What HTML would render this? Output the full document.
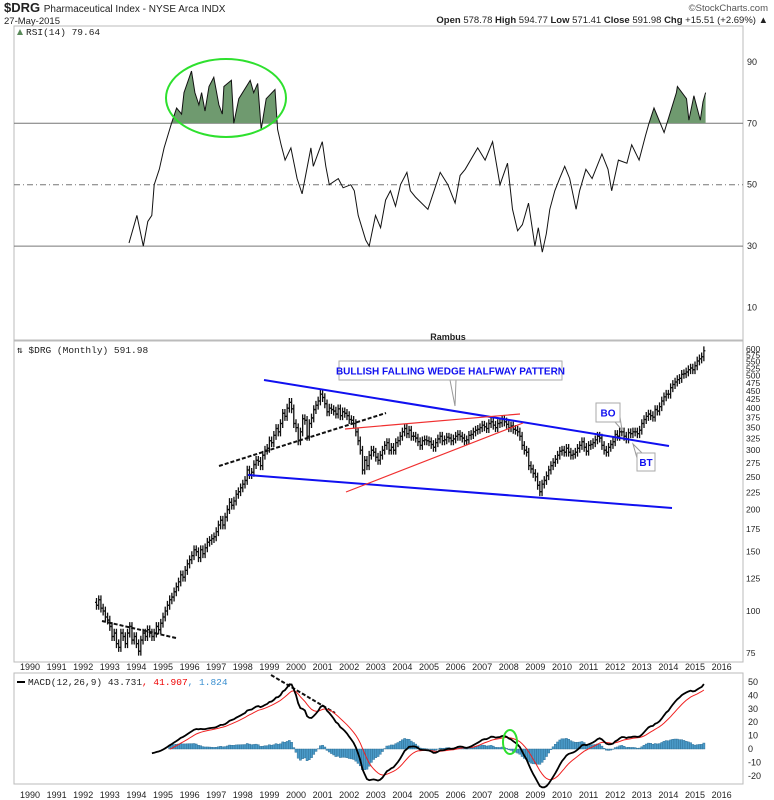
<!DOCTYPE html>
<html><head><meta charset="utf-8">
<style>
body{margin:0;background:#fff;}
svg{display:block;font-family:"Liberation Sans",sans-serif;}
</style></head>
<body>
<svg id="chart" width="774" height="800" viewBox="0 0 774 800" xmlns="http://www.w3.org/2000/svg">
<defs><clipPath id="above70"><rect x="14" y="26" width="729" height="97.3"/></clipPath></defs>
<rect x="0" y="0" width="774" height="800" fill="#fff"/>
<text x="4" y="12" font-size="13" font-weight="bold" fill="#222">$DRG <tspan font-size="10" font-weight="normal">Pharmaceutical Index - NYSE Arca INDX</tspan></text>
<text x="4" y="24" font-size="9.5" fill="#222">27-May-2015</text>
<text x="768" y="11" font-size="9.5" fill="#555" text-anchor="end">©StockCharts.com</text>
<text x="768" y="23" font-size="9.5" fill="#222" text-anchor="end"><tspan font-weight="bold">Open</tspan> 578.78 <tspan font-weight="bold">High</tspan> 594.77 <tspan font-weight="bold">Low</tspan> 571.41 <tspan font-weight="bold">Close</tspan> 591.98 <tspan font-weight="bold">Chg</tspan> +15.51 (+2.69%) ▲</text>

<rect x="14" y="26" width="729" height="314" fill="none" stroke="#bbb"/>
<rect x="14" y="341" width="729" height="321" fill="none" stroke="#bbb"/>
<rect x="14" y="673" width="729" height="111" fill="none" stroke="#bbb"/>
<text x="26" y="35" font-size="9.5" font-family="Liberation Mono, monospace" fill="#222">RSI(14) 79.64</text>
<path d="M17 35 l3 -6 l3 6z" fill="#5a8a5a"/>
<text x="17" y="353" font-size="9.5" font-family="Liberation Mono, monospace" fill="#222">⇅ $DRG (Monthly) 591.98</text>
<text x="28" y="685" font-size="9.5" font-family="Liberation Mono, monospace" fill="#222">MACD(12,26,9) 43.731<tspan fill="#e00">, 41.907</tspan><tspan fill="#3a8fd0">, 1.824</tspan></text>
<line x1="17" y1="682" x2="25" y2="682" stroke="#000" stroke-width="2"/>
<text x="448" y="340" font-size="9" font-weight="bold" text-anchor="middle" fill="#222">Rambus</text>
<g id="g"></g>
</svg>
<script>
const closes1992=[104,108,102,100,96,94];
const closes1993=[90,84,86,80,78,86,84,80,86,90,82,84];
const closes1994=[80,76,82,86,84,88,86,84,86,90,88,92];
const closes1995=[96,100,104,108,110,114,118,122,128,126,132,138];
const closes1996=[142,146,152,150,144,152,148,154,160,162,164,166];
const closes1997=[172,180,186,180,190,200,210,206,212,222,226,232];
const closes1998=[238,244,262,254,258,272,280,278,270,290,300,304];
const closes1999=[320,316,332,348,340,360,386,378,400,416,398,360];
const closes2000=[350,320,340,372,368,330,360,374,396,408,420,440];
const closes2001=[430,412,390,400,396,392,384,398,380,390,386,380];
const closes2002=[370,368,360,340,320,300,262,280,270,290,300,296];
const closes2003=[286,280,290,300,310,316,300,306,300,316,320,330];
const closes2004=[340,348,336,344,330,330,326,318,310,320,322,320];
const closes2005=[318,312,306,316,324,330,320,322,328,326,320,324];
const closes2006=[330,334,330,326,320,322,332,334,340,344,346,350];
const closes2007=[356,352,348,360,364,356,350,360,362,370,364,358];
const closes2008=[350,354,346,344,340,330,310,300,296,270,264,256];
const closes2009=[250,236,226,238,244,252,262,270,276,282,290,298];
const closes2010=[300,296,304,296,290,292,296,304,310,318,306,298];
const closes2011=[310,312,316,322,330,326,310,300,296,306,312,318];
const closes2012=[334,330,340,340,330,324,338,336,340,340,336,344];
const closes2013=[360,370,378,384,380,376,396,392,404,420,432,440];
const closes2014=[440,460,470,478,486,490,504,506,512,520,526,520];
const closes2015=[534,552,560,568,592];
const startYear=1992.5;
const rsiDates=[1993.72,1994.02,1994.26,1994.43,1994.58,1994.67,1994.86,1995.04,1995.32,1995.51,1995.70,1995.79,1996.07,1996.20,1996.35,1996.45,1996.58,1996.73,1996.91,1997.10,1997.23,1997.29,1997.57,1997.66,1997.85,1998.28,1998.41,1998.56,1998.69,1998.88,1999.21,1999.31,1999.44,1999.59,1999.81,2000.04,2000.23,2000.56,2000.65,2000.99,2001.12,2001.25,2001.59,2001.77,2002.06,2002.19,2002.34,2002.62,2002.75,2002.99,2003.18,2003.37,2003.55,2003.74,2003.93,2004.17,2004.30,2004.49,2004.96,2005.42,2005.71,2005.98,2006.17,2006.36,2006.83,2007.11,2007.39,2007.67,2007.95,2008.14,2008.33,2008.51,2008.74,2008.98,2009.11,2009.26,2009.41,2009.54,2009.73,2009.91,2010.10,2010.29,2010.53,2010.66,2010.90,2011.13,2011.50,2011.73,2011.87,2012.12,2012.44,2012.62,2012.90,2013.14,2013.27,2013.46,2013.84,2014.30,2014.34,2014.68,2014.77,2014.96,2015.20,2015.30,2015.40];
const rsiValues=[31,40,30,38,40,50,55,62,70,75,73,80,87,80,76,80,74,82,85,76,73,82,84,70,78,84,80,83,68,78,81,68,63,58,62,52,47,62,56,64,56,50,52,49,50,48,40,32,30,40,36,45,48,43,50,54,48,46,42,54,50,44,53,55,62,58,64,50,57,42,35,37,44,30,36,28,34,42,48,52,56,52,42,48,55,52,60,55,48,58,57,63,58,66,70,75,67,80,82,78,71,79,71,77,80];
const yearTicks=[1990,1991,1992,1993,1994,1995,1996,1997,1998,1999,2000,2001,2002,2003,2004,2005,2006,2007,2008,2009,2010,2011,2012,2013,2014,2015,2016];
const priceTicks=[600,575,550,525,500,475,450,425,400,375,350,325,300,275,250,225,200,175,150,125,100,75];
const rsiTicks=[90,70,50,30,10];
const macdTicks=[50,40,30,20,10,0,-10,-20];

const closes=[].concat(closes1992,closes1993,closes1994,closes1995,closes1996,closes1997,closes1998,closes1999,closes2000,closes2001,closes2002,closes2003,closes2004,closes2005,closes2006,closes2007,closes2008,closes2009,closes2010,closes2011,closes2012,closes2013,closes2014,closes2015);
const NS="http://www.w3.org/2000/svg";
const G=document.getElementById('g');
function xYear(y){return 30+(y-1990)*26.6;}
function xIdx(i){return xYear(startYear+i/12);}
function yPrice(v){return 611-337*Math.log10(v/100);}
function yRsi(v){return 123.3+(70-v)*3.07;}
function yMacd(v){return 749-v*1.34;}
function mk(tag,attrs){const e=document.createElementNS(NS,tag);for(const k in attrs)e.setAttribute(k,attrs[k]);G.appendChild(e);return e;}

yearTicks.forEach(function(yr){
  [667,795].forEach(function(yy,j){
    const t=mk('text',{x:xYear(yr),y:yy+3,'font-size':9,'text-anchor':'middle',fill:'#222'});
    t.textContent=yr;
    
    
  });
});
priceTicks.forEach(function(v){
  const t=mk('text',{x:746,y:yPrice(v)+3,'font-size':8.5,fill:'#222'});
  t.textContent=v;
  
  
});
rsiTicks.forEach(function(v){
  const t=mk('text',{x:747,y:yRsi(v)+3,'font-size':9,fill:'#222'});
  t.textContent=v;
  
  
});
macdTicks.forEach(function(v){
  const t=mk('text',{x:748,y:yMacd(v)+3,'font-size':9,fill:'#222'});
  t.textContent=v;
  
  
});

// RSI
[70,30].forEach(function(v){
  const l=mk('line',{x1:14,x2:743,y1:yRsi(v),y2:yRsi(v),stroke:'#777','stroke-width':1});
  
  
});
const l50=mk('line',{x1:14,x2:743,y1:yRsi(50),y2:yRsi(50),stroke:'#777','stroke-dasharray':'6,3,1,3'});


let rp='';
for(let i=0;i<rsiDates.length;i++){rp+=(i===0?'M':'L')+xYear(rsiDates[i]).toFixed(1)+' '+yRsi(rsiValues[i]).toFixed(1);}
const fp='M'+xYear(rsiDates[0]).toFixed(1)+' '+yRsi(70)+rp.replace(/^M/,'L')+'L'+xYear(rsiDates[rsiDates.length-1]).toFixed(1)+' '+yRsi(70)+'Z';
const rf=mk('path',{d:fp,fill:'#6f9a6f','clip-path':'url(#above70)'});


const rl=mk('path',{d:rp,fill:'none',stroke:'#111','stroke-width':1});


const ell=mk('ellipse',{cx:226,cy:98,rx:60,ry:39,fill:'none',stroke:'#2ee02e','stroke-width':2});



// price bars
for(let i=0;i<closes.length;i++){
  const o=i?closes[i-1]:closes[0]*1.02,c=closes[i];
  const hi=Math.max(o,c)*1.03,lo=Math.min(o,c)*0.97,x=xIdx(i);
  const b=mk('path',{d:'M'+x+' '+yPrice(hi)+'V'+yPrice(lo)+'M'+(x-1.5)+' '+yPrice(o)+'H'+x+'M'+x+' '+yPrice(c)+'H'+(x+1.5),stroke:'#111','stroke-width':1.3,fill:'none'});
  
  
}
function tl(name,x1,y1,x2,y2,col,w,dash){
  const l=mk('line',{x1:x1,y1:y1,x2:x2,y2:y2,stroke:col,'stroke-width':w});
  if(dash)l.setAttribute('stroke-dasharray',dash);
  
  
}
tl('wedge-upper-line',264,380,669,446,'#1010f0',2);
tl('wedge-lower-line',248,475,672,508,'#1010f0',2);
tl('red-upper-line',345,429,520,414,'#f03030',1.2);
tl('red-lower-line',346,492,523,423,'#f03030',1.2);
tl('support-dashed-line',219,466,386,413,'#111',2,'4,2');
tl('early-dashed-line',102,621,176,638,'#111',2,'4,2');
tl('macd-dashed-line',271,675,335,713,'#111',2,'4,2');

function callout(name,x,y,w,h,txt,px1,py1,px2,py2,tipx,tipy){
  mk('path',{d:'M'+px1+' '+py1+'L'+tipx+' '+tipy+'L'+px2+' '+py2,fill:'#fff',stroke:'#999'});
  const r=mk('rect',{x:x,y:y,width:w,height:h,fill:'#fff',stroke:'#aaa'});
  
  
  const t=mk('text',{x:x+w/2,y:y+h/2+4,'font-size':10,'font-weight':'bold',fill:'#1010f0','text-anchor':'middle'});
  t.textContent=txt;
  
  
}
callout('pattern-label',339,361,223,19,'BULLISH FALLING WEDGE HALFWAY PATTERN',450,380,456,380,455,406);
callout('bo-label',596,403,24,19,'BO',615,422,620,417,622,430);
callout('bt-label',637,453,18,18,'BT',637,458,642,453,633,444);

// MACD
function ema(arr,n,start){const k=2/(n+1);const out=[];let v=null;for(let i=start;i<arr.length;i++){if(arr[i]==null)continue;v=v==null?arr[i]:arr[i]*k+v*(1-k);out[i]=v;}return out;}
const e12=ema(closes,12,0),e26=ema(closes,26,0);
const macd=[];for(let i=25;i<closes.length;i++)macd[i]=e12[i]-e26[i];
const sig=ema(macd,9,25);
for(let i=33;i<closes.length;i++){
  const h=macd[i]-sig[i],x=xIdx(i);
  const hb=mk('rect',{x:x-1.1,y:Math.min(yMacd(0),yMacd(h)),width:2.2,height:Math.abs(yMacd(h)-yMacd(0)),fill:'#4a9ac8',stroke:'#2a6a90','stroke-width':0.4});
  
  
}
let mp='',sp='';
for(let i=25;i<closes.length;i++)mp+=(i===25?'M':'L')+xIdx(i).toFixed(1)+' '+yMacd(macd[i]).toFixed(1);
for(let i=33;i<closes.length;i++)sp+=(i===33?'M':'L')+xIdx(i).toFixed(1)+' '+yMacd(sig[i]).toFixed(1);
const sl=mk('path',{d:sp,fill:'none',stroke:'#f02020','stroke-width':1});


const ml=mk('path',{d:mp,fill:'none',stroke:'#000','stroke-width':1.8});


const ring=mk('ellipse',{cx:510,cy:742,rx:7,ry:12,fill:'none',stroke:'#2ee02e','stroke-width':2});


</script>
</body></html>
